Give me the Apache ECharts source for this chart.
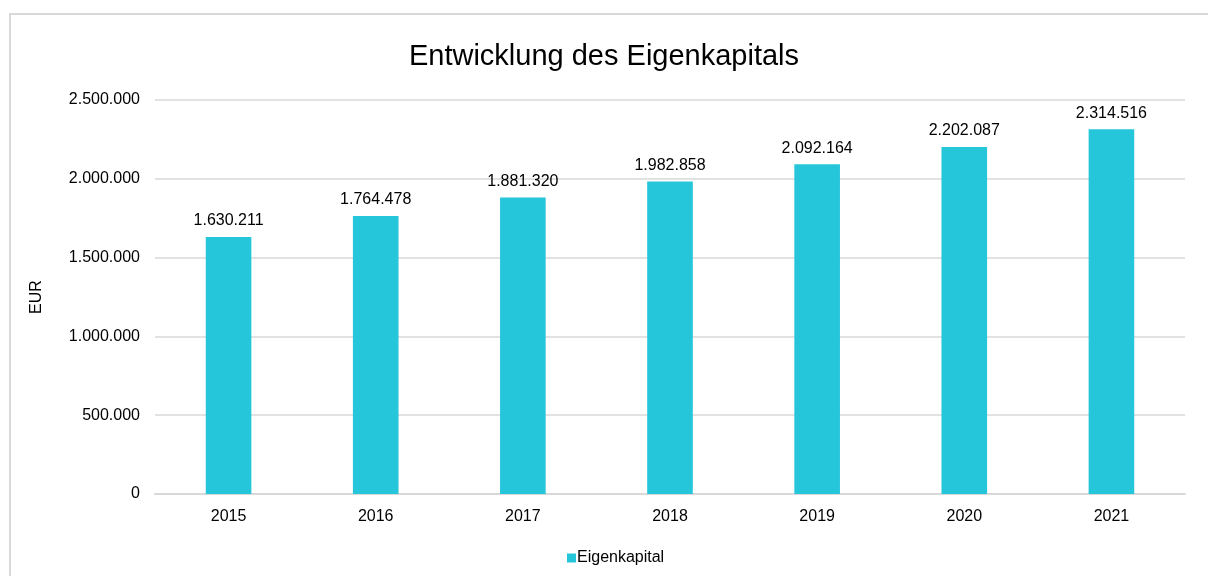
<!DOCTYPE html>
<html><head><meta charset="utf-8">
<script src="https://cdn.jsdelivr.net/npm/echarts@6/dist/echarts.min.js"></script>
<style>
html,body{margin:0;padding:0;background:#fff;}
#wrap{position:relative;width:1208px;height:576px;overflow:hidden;background:#fff;}
#frame{position:absolute;left:9px;top:13px;width:1220px;height:600px;border:2px solid #d9d9d9;box-sizing:border-box;}
#chart{position:absolute;left:0;top:0;width:1208px;height:576px;}
</style></head>
<body><div id="wrap"><div id="frame"></div><div id="chart"></div></div>
<script>
const categories = ['2015','2016','2017','2018','2019','2020','2021'];
const eigenkapital = [1630211, 1764478, 1881320, 1982858, 2092164, 2202087, 2314516];
const yTicks = [0, 500000, 1000000, 1500000, 2000000, 2500000];

function fmt(v){ return String(Math.round(v)).replace(/\B(?=(\d{3})+(?!\d))/g, '.'); }

const chart = echarts.init(document.getElementById('chart'));
chart.setOption({
  animation:false,
  textStyle:{fontFamily:'Liberation Sans, Arial, sans-serif'},
  title:{text:'Entwicklung des Eigenkapitals', left:'center', top:37,
    textStyle:{fontSize:29, fontWeight:'normal', color:'#000', fontFamily:'Liberation Sans, Arial, sans-serif'}},
  legend:{bottom:5, left:562, itemWidth:9, itemHeight:9, itemGap:4,
    icon:'rect', data:['Eigenkapital'],
    textStyle:{fontSize:16, color:'#000', padding:[0,0,0,-4]}},
  grid:{left:155, right:23, top:100, bottom:82, containLabel:false},
  xAxis:{type:'category', data:categories,
    axisLine:{lineStyle:{color:'#d9d9d9', width:2}}, axisTick:{show:false},
    axisLabel:{fontSize:16, color:'#000', margin:15}},
  yAxis:{type:'value', min:yTicks[0], max:yTicks[yTicks.length-1], interval:500000,
    name:'EUR', nameLocation:'middle', nameGap:110, nameRotate:90,
    nameTextStyle:{fontSize:16, color:'#000'},
    axisLine:{show:false}, axisTick:{show:false},
    axisLabel:{fontSize:16, color:'#000', margin:15, formatter:fmt},
    splitLine:{lineStyle:{color:'#d9d9d9', width:1.5}}},
  series:[{name:'Eigenkapital', type:'bar', data:eigenkapital, barWidth:'31%',
    itemStyle:{color:'#26C6DA'},
    label:{show:true, position:'top', distance:8, fontSize:16, color:'#000', formatter:p=>fmt(p.value)}}]
});
</script></body></html>
